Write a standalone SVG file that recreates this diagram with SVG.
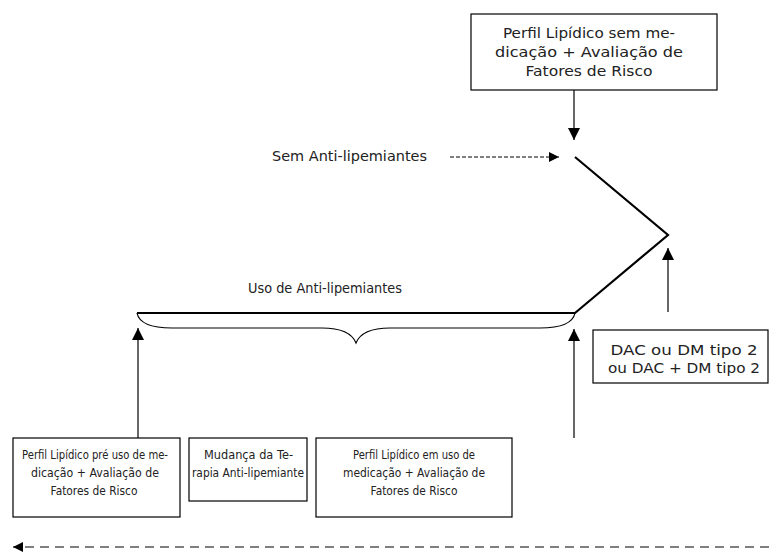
<svg xmlns="http://www.w3.org/2000/svg" width="769" height="552" viewBox="0 0 769 552">
<style>
.box{fill:#fff;stroke:#000;stroke-width:1.2}
.t{font-family:"DejaVu Sans",sans-serif;font-size:14px;fill:#222;text-anchor:middle}
.s{font-family:"DejaVu Sans",sans-serif;font-size:13px;fill:#222;text-anchor:middle}
.tl{font-family:"DejaVu Sans",sans-serif;font-size:14px;fill:#222}
.ar{stroke:#000;stroke-width:1.2;fill:none}
.thick{stroke:#000;stroke-width:2.2;fill:none}
</style>
<defs>
<marker id="ah" viewBox="0 0 10 10" refX="10" refY="5" markerWidth="12" markerHeight="12" markerUnits="userSpaceOnUse" orient="auto">
<path d="M0,0 L10,5 L0,10 Z" fill="#000"/>
</marker>
<marker id="ahs" viewBox="0 0 10 10" refX="10" refY="5" markerWidth="12" markerHeight="10" markerUnits="userSpaceOnUse" orient="auto">
<path d="M0,0 L10,5 L0,10 Z" fill="#000"/>
</marker>
</defs>
<g id="top">
<rect class="box" x="471" y="14" width="246" height="76"/>
<text class="t" x="589" y="38" textLength="172" lengthAdjust="spacingAndGlyphs">Perfil Lipídico sem me-</text>
<text class="t" x="589" y="57" textLength="188" lengthAdjust="spacingAndGlyphs">dicação + Avaliação de</text>
<text class="t" x="589" y="76" textLength="127" lengthAdjust="spacingAndGlyphs">Fatores de Risco</text>
</g>
<g id="sem">
<text class="tl" x="272" y="161" textLength="155" lengthAdjust="spacingAndGlyphs">Sem Anti-lipemiantes</text>
</g>
<g id="uso">
<text class="t" x="325" y="293" textLength="154" lengthAdjust="spacingAndGlyphs">Uso de Anti-lipemiantes</text>
</g>
<g id="dac">
<rect class="box" x="593" y="330" width="175" height="53"/>
<text class="t" x="684" y="355" textLength="147" lengthAdjust="spacingAndGlyphs">DAC ou  DM tipo 2</text>
<text class="t" x="684" y="373" textLength="152" lengthAdjust="spacingAndGlyphs">ou DAC + DM tipo 2</text>
</g>
<g id="b1">
<rect class="box" x="13" y="438" width="167" height="79"/>
<text class="s" x="95" y="459" textLength="146" lengthAdjust="spacingAndGlyphs">Perfil Lipídico pré uso de me-</text>
<text class="s" x="95" y="477" textLength="128" lengthAdjust="spacingAndGlyphs">dicação + Avaliação de</text>
<text class="s" x="94" y="495" textLength="87" lengthAdjust="spacingAndGlyphs">Fatores de Risco</text>
</g>
<g id="b2">
<rect class="box" x="189" y="438" width="118" height="63"/>
<text class="s" x="248.5" y="459" textLength="89" lengthAdjust="spacingAndGlyphs">Mudança da Te-</text>
<text class="s" x="248" y="477" textLength="112" lengthAdjust="spacingAndGlyphs">rapia Anti-lipemiante</text>
</g>
<g id="b3">
<rect class="box" x="316" y="438" width="196" height="79"/>
<text class="s" x="414" y="459" textLength="122" lengthAdjust="spacingAndGlyphs">Perfil Lipídico em uso de</text>
<text class="s" x="414" y="477" textLength="142" lengthAdjust="spacingAndGlyphs">medicação + Avaliação de</text>
<text class="s" x="414" y="495" textLength="87" lengthAdjust="spacingAndGlyphs">Fatores de Risco</text>
</g>
<g id="connectors">
<line class="ar" x1="574" y1="90" x2="574" y2="140" marker-end="url(#ah)"/>
<line class="ar" x1="450" y1="157" x2="559" y2="157" stroke-dasharray="4,2" marker-end="url(#ahs)"/>
<polyline class="thick" points="575,157 668,235 575,313 137,313"/>
<path class="ar" d="M137,313 Q140,328 172,328 L322,328 Q350,328 356,343 Q362,328 390,328 L540,328 Q572,328 575,313"/>
<line class="ar" x1="668" y1="312" x2="668" y2="248" marker-end="url(#ah)"/>
<line class="ar" x1="138" y1="438" x2="138" y2="328" marker-end="url(#ah)"/>
<line class="ar" x1="574" y1="438" x2="574" y2="329" marker-end="url(#ah)"/>
<line class="ar" x1="769" y1="547" x2="13" y2="547" stroke-dasharray="9,6" stroke-width="2" marker-end="url(#ahs)"/>
</g>
</svg>
